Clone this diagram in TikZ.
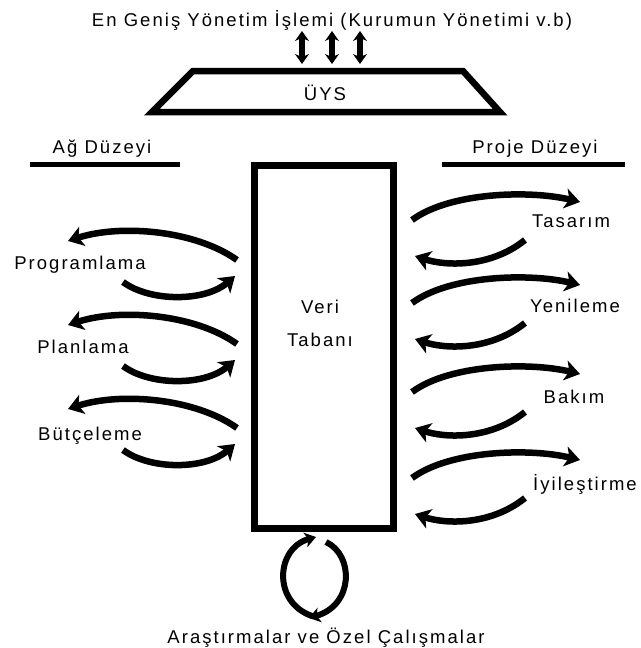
\documentclass[tikz,border=0pt]{standalone}
\usepackage{fontspec}
\setmainfont[LetterSpace=11]{Liberation Sans}
\usetikzlibrary{arrows.meta}
\begin{document}
\begin{tikzpicture}[x=1pt,y=-1pt,
  lbl/.style={inner sep=0pt,anchor=base,font=\fontsize{18.5}{20}\selectfont},
  bold/.style={line width=7pt},
  flow/.style={line width=6.5pt,-{Stealth[length=15pt,width=20pt,inset=4pt]}},
  dbl/.style={line width=6pt,{Stealth[length=10pt,width=14pt]}-{Stealth[length=10pt,width=14pt]}},
  thinline/.style={line width=5.5pt}]
\useasboundingbox (0,0) rectangle (640,648);
% top
\node[lbl] (top) at (332,26) {En Geniş Yönetim İşlemi (Kurumun Yönetimi v.b)};
\foreach \x/\n in {302/a,332/b,360/c}{
  \coordinate (t\n) at (\x,31);
  \coordinate (b\n) at (\x,64);
  \draw[dbl] (t\n) -- (b\n);
}
% trapezoid
\coordinate (tl) at (193,71);
\coordinate (tr) at (463,71);
\coordinate (br) at (500,112);
\coordinate (bl) at (152,112);
\draw[line width=6.5pt,line join=miter] (tl) -- (tr) -- (br) -- (bl) -- cycle;
\node[lbl] (uys) at (325,100) {ÜYS};
% levels
\node[lbl] (ag) at (102,153) {Ağ Düzeyi};
\coordinate (agl) at (30,164.5); \coordinate (agr) at (180,164.5);
\draw[thinline] (agl) -- (agr);
\node[lbl] (proje) at (535,153) {Proje Düzeyi};
\coordinate (prl) at (442,164.5); \coordinate (prr) at (625,164.5);
\draw[thinline] (prl) -- (prr);
% database
\node[draw,bold,minimum width=139pt,minimum height=363pt,inner sep=0pt] (db) at (324,347) {};
\node[lbl] (veri) at (320,313) {Veri};
\node[lbl] (tabani) at (320,346) {Tabanı};
% left groups
\foreach \y/\t/\n/\xo/\yb in {260/Programlama/p/80/269,344/Planlama/q/83/353,428/Bütçeleme/r/90/440}{
  \node[lbl] (\n) at (\xo,\yb) {\t};
  \coordinate (\n us) at (237,\y);
  \coordinate (\n ue) at (68,\y-19);
  \coordinate (\n ls) at (123,\y+22);
  \coordinate (\n le) at (235,\y+16);
  \draw[flow] (\n us) .. controls (195,\y-30) and (120,\y-36) .. (\n ue);
  \draw[flow] (\n ls) .. controls (150,\y+42) and (205,\y+42) .. (\n le);
}
% right groups
\foreach \y/\t/\n/\xo/\yb in {220/Tasarım/s/571/227,303/Yenileme/u/575/312,392/Bakım/v/574/403,478/İyileştirme/w/585/490}{
  \node[lbl] (\n) at (\xo,\yb) {\t};
  \coordinate (\n us) at (412,\y);
  \coordinate (\n ue) at (580,\y-18);
  \coordinate (\n ls) at (525,\y+20);
  \coordinate (\n le) at (415,\y+36);
  \draw[flow] (\n us) .. controls (450,\y-28) and (530,\y-30) .. (\n ue);
  \draw[flow] (\n ls) .. controls (490,\y+48) and (445,\y+46) .. (\n le);
}
% bottom loop
\coordinate (la) at (312,616);
\coordinate (lb) at (316,537);
\coordinate (ra) at (326,542);
\coordinate (rb) at (309,618);
\draw[line width=6pt,-{Stealth[length=11pt,width=15pt,inset=3pt]}] (la) .. controls (272,602) and (276,548) .. (lb);
\draw[line width=6pt,-{Stealth[length=11pt,width=15pt,inset=3pt]}] (ra) .. controls (354,555) and (354,605) .. (rb);
\node[lbl] (arast) at (326,643) {Araştırmalar ve Özel Çalışmalar};
\end{tikzpicture}
\end{document}
